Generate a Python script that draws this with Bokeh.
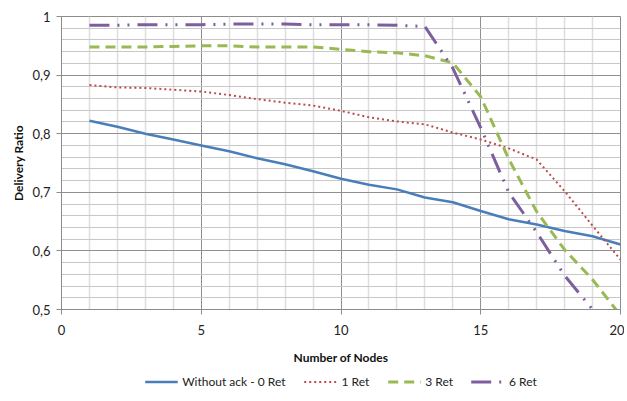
from bokeh.plotting import figure
from bokeh.layouts import column
from bokeh.models import FixedTicker, Legend, LegendItem, Range1d
from bokeh.embed import file_html
from bokeh.resources import INLINE

nodes = list(range(1, 21))
without_ack = [0.822, 0.812, 0.800, 0.790, 0.780, 0.770, 0.758, 0.748, 0.736, 0.723,
               0.713, 0.705, 0.691, 0.683, 0.668, 0.654, 0.645, 0.634, 0.625, 0.611]
ret1 = [0.883, 0.879, 0.878, 0.875, 0.872, 0.866, 0.859, 0.853, 0.848, 0.839,
        0.828, 0.821, 0.816, 0.802, 0.790, 0.775, 0.756, 0.702, 0.643, 0.585]
ret3 = [0.948, 0.948, 0.948, 0.949, 0.950, 0.950, 0.948, 0.948, 0.948, 0.944,
        0.940, 0.938, 0.933, 0.921, 0.863, 0.757, 0.667, 0.602, 0.551, 0.490]
ret6 = [0.985, 0.985, 0.986, 0.986, 0.986, 0.987, 0.987, 0.987, 0.986, 0.986,
        0.986, 0.985, 0.983, 0.912, 0.810, 0.700, 0.632, 0.558, 0.500, 0.430]
series_names = ["Without ack - 0 Ret", "1 Ret", "3 Ret", "6 Ret"]

x_ticks = [0, 5, 10, 15, 20]
y_ticks = [0.5, 0.6, 0.7, 0.8, 0.9, 1.0]
y_tick_labels = ["0,5", "0,6", "0,7", "0,8", "0,9", "1"]

FONT = "Lato"
styles = [
    dict(line_color="#4a7ebb", line_width=2.5),
    dict(line_color="#be4b48", line_width=2, line_dash="2 3"),
    dict(line_color="#98b954", line_width=3, line_dash="10 6"),
    dict(line_color="#7d5fa0", line_width=3, line_dash="20 8 2 8 2 8"),
]
series = [without_ack, ret1, ret3, ret6]

p = figure(frame_width=559, frame_height=293, output_backend="svg", toolbar_location=None,
           x_range=Range1d(0, 20), y_range=Range1d(0.5, 1.0),
           min_border_left=61, min_border_top=16, min_border_right=4, min_border_bottom=0)
p.outline_line_color = "#8c8c8c"
p.background_fill_color = "white"
p.border_fill_color = "white"

p.xaxis.ticker = FixedTicker(ticks=x_ticks, minor_ticks=[i for i in range(1, 20) if i % 5])
p.yaxis.ticker = FixedTicker(ticks=y_ticks,
                             minor_ticks=[round(0.5 + 0.02 * i, 2) for i in range(1, 25) if i % 5])
p.yaxis.major_label_overrides = dict(zip(y_ticks, y_tick_labels))

for ax in (p.xaxis, p.yaxis):
    ax.axis_line_color = "#8c8c8c"
    ax.major_tick_line_color = "#8c8c8c"
    ax.major_tick_out = 5
    ax.major_tick_in = 0
    ax.minor_tick_line_color = None
    ax.major_label_text_font = FONT
    ax.major_label_text_font_size = "13px"
    ax.major_label_text_color = "#222222"
    ax.axis_label_text_font = FONT
    ax.axis_label_text_font_style = "bold"
    ax.axis_label_text_font_size = "12px"
    ax.axis_label_text_color = "#111111"

p.xaxis.axis_label = "Number of Nodes"
p.yaxis.axis_label = "Delivery Ratio"
p.xaxis.major_label_standoff = 10
p.xaxis.axis_label_standoff = 12
p.yaxis.major_label_standoff = 6
p.yaxis.axis_label_standoff = 3

p.xgrid.grid_line_color = "#909090"
p.xgrid.minor_grid_line_color = "#dedede"
p.xgrid.minor_grid_line_width = 1.5
p.ygrid.grid_line_color = "#909090"
p.ygrid.minor_grid_line_color = "#c8c8c8"

for ys, st in zip(series, styles):
    p.line(nodes, ys, **st)

# legend strip below the chart (series drawn off-view so only the legend shows)
lg = figure(width=624, height=28, output_backend="svg", toolbar_location=None,
            x_range=Range1d(-10, -9), y_range=Range1d(0, 1),
            x_axis_location=None, y_axis_location=None, min_border=0)
lg.outline_line_color = None
lg.xgrid.visible = False
lg.ygrid.visible = False
lg_renderers = [lg.line(nodes, ys, **st) for ys, st in zip(series, styles)]

legend = Legend(items=[LegendItem(label=n, renderers=[r]) for n, r in zip(series_names, lg_renderers)],
                orientation="horizontal", location="center")
legend.border_line_color = None
legend.background_fill_alpha = 0
legend.label_text_font = FONT
legend.label_text_font_size = "12px"
legend.label_text_color = "#222222"
legend.glyph_width = 33
legend.glyph_height = 12
legend.label_height = 12
legend.label_standoff = 5
legend.spacing = 18
legend.padding = 0
legend.margin = 0
lg.add_layout(legend, "center")

layout = column(p, lg, spacing=0)
open("out.html", "w").write(file_html(layout, INLINE))
